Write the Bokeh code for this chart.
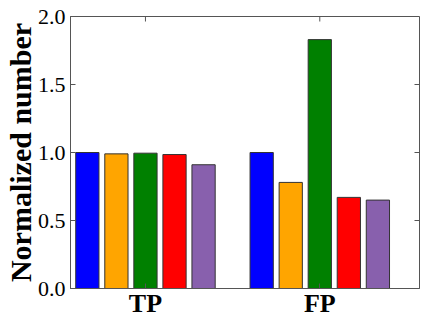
import math
from bokeh.plotting import figure
from bokeh.models import Range1d, FixedTicker, NumeralTickFormatter
from bokeh.embed import file_html
from bokeh.resources import INLINE

# ---- data ----
groups = ["TP", "FP"]
colors = ["#0000ff", "#ffa500", "#008000", "#ff0000", "#8860ad"]
series_1 = [1.00, 1.00]
series_2 = [0.99, 0.78]
series_3 = [0.995, 1.83]
series_4 = [0.985, 0.67]
series_5 = [0.91, 0.65]
series = [series_1, series_2, series_3, series_4, series_5]
y_ticks = [0.0, 0.5, 1.0, 1.5, 2.0]
y_label = "Normalized number"

FONT = "Liberation Serif"
AXIS_COLOR = "#555555"
X0, X1 = -0.43, 1.572
Y0, Y1 = 0.0, 2.0

p = figure(width=423, height=321, output_backend="svg", toolbar_location=None,
           x_range=Range1d(X0, X1), y_range=Range1d(Y0, Y1),
           min_border_top=16, min_border_right=4,
           min_border_left=67, min_border_bottom=33)
p.xgrid.visible = False
p.ygrid.visible = False
p.outline_line_color = AXIS_COLOR
p.outline_line_width = 1
p.background_fill_color = "white"
p.border_fill_color = "white"

n = len(series)
step = 1.0 / 6.0
for i, vals in enumerate(series):
    xs = [g + (i - (n - 1) / 2) * step for g in range(len(groups))]
    p.vbar(x=xs, top=vals, width=0.8 * step, bottom=0,
           fill_color=colors[i], line_color="#333333", line_width=1)

group_ticks = list(range(len(groups)))
overrides = {t: g for t, g in zip(group_ticks, groups)}

def style_axis(ax):
    ax.axis_line_color = AXIS_COLOR
    ax.major_tick_line_color = AXIS_COLOR
    ax.major_tick_in = 5
    ax.major_tick_out = 0
    ax.minor_tick_line_color = None
    ax.major_label_text_font = FONT
    ax.major_label_text_color = "black"

xa = p.xaxis[0]
xa.ticker = FixedTicker(ticks=group_ticks)
xa.major_label_overrides = overrides
style_axis(xa)
xa.major_label_text_font_size = "26px"
xa.major_label_text_font_style = "bold"
xa.major_label_standoff = 0

ya = p.yaxis[0]
ya.ticker = FixedTicker(ticks=y_ticks)
ya.formatter = NumeralTickFormatter(format="0.0")
style_axis(ya)
ya.major_label_text_font_size = "22px"
ya.major_label_standoff = 5
ya.axis_label = y_label
ya.axis_label_text_font = FONT
ya.axis_label_text_font_size = "30px"
ya.axis_label_text_font_style = "bold"
ya.axis_label_text_color = "black"
ya.axis_label_standoff = -2

# inward tick marks on the top and right edges
p.ray(x=group_ticks, y=[Y1] * len(group_ticks), length=5, length_units="screen",
      angle=-math.pi / 2, line_color=AXIS_COLOR, line_width=1)
p.ray(x=[X1] * len(y_ticks), y=y_ticks, length=5, length_units="screen",
      angle=math.pi, line_color=AXIS_COLOR, line_width=1)

open("out.html", "w").write(file_html(p, INLINE))
